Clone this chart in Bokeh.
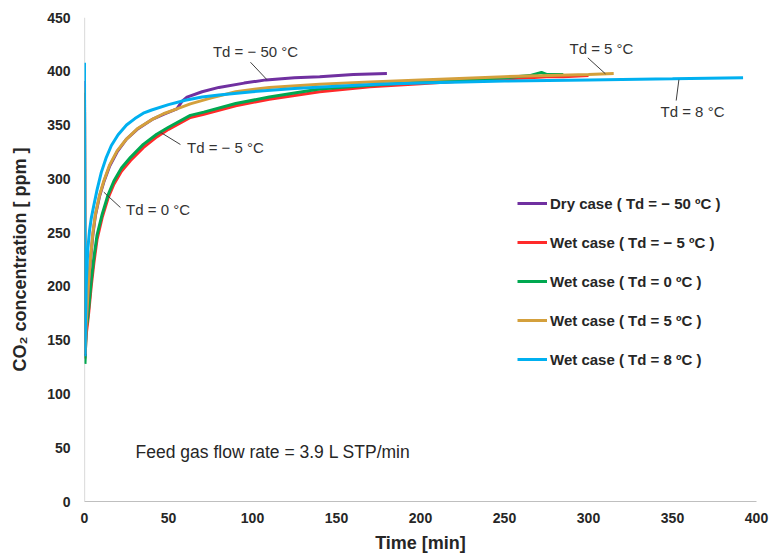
from bokeh.plotting import figure
from bokeh.models import Range1d, FixedTicker, Legend, LegendItem, Span
from bokeh.core.properties import value
from bokeh.embed import file_html
from bokeh.resources import INLINE

# ---- data ----
t_dry = [0, 0.3, 1, 1.6, 2.5, 3.6, 5, 6.5, 9, 11.5, 15, 19.4, 25, 31.4, 40, 47, 55, 58, 61, 70, 80, 95, 108, 125, 140, 160, 180]
c_dry = [391, 136, 163, 179, 203, 225, 248, 266, 284, 297, 312, 325, 337, 346, 355, 360, 365, 372, 376, 381, 385, 389, 392, 394, 395, 397, 398]

t_m5 = [0, 0.3, 1, 2, 2.6, 4, 5.6, 7.5, 10.5, 14, 17.5, 22, 27.4, 35, 43, 50, 63, 71, 90, 110, 140, 170, 200, 225, 250, 265, 275, 285, 300]
c_m5 = [380, 133, 155, 168, 177, 200, 222, 244, 264, 282, 295, 307, 317, 329, 339, 346, 357, 360, 368, 374, 381, 385.5, 388.5, 391, 393, 394, 395, 395, 396]

t_0 = [0, 0.3, 1, 2, 2.6, 4, 5.6, 7.5, 10.5, 14, 17.5, 22, 27.4, 35, 43, 50, 63, 71, 90, 110, 140, 170, 200, 225, 250, 265, 272, 275, 285]
c_0 = [380, 128, 160, 172, 181, 205, 227, 248, 267, 285, 298, 310, 320, 332, 341.5, 348, 359, 362, 370, 376, 383.5, 387, 390, 392, 394, 396, 399, 397, 397]

t_5 = [0, 0.3, 1, 1.6, 2.5, 3.6, 5, 6.5, 9, 11.5, 15, 19.4, 25, 31.4, 40, 47, 55, 63, 75, 90, 110, 140, 170, 200, 250, 300, 315]
c_5 = [385, 137, 165, 181, 205, 227, 250, 267, 285, 298, 313, 326, 337, 346.5, 355, 360.5, 365, 369.7, 375, 381, 385, 388, 390, 392, 395, 397, 398]

t_8 = [0, 0.3, 1, 2, 3, 4, 5.5, 7.5, 10, 13, 16, 20, 25, 30, 35, 40, 50, 60, 70, 80, 100, 125, 150, 175, 200, 250, 300, 350, 392]
c_8 = [408, 135, 200, 235, 252, 263, 275, 290, 306, 320, 331, 341, 350, 356, 361, 364, 369, 373, 376, 378, 381, 384, 386, 388, 389, 391, 392, 393, 394]

series_labels = ["Dry case ( Td = \u2212 50 \u00baC )", "Wet case ( Td = \u2212 5 \u00baC )",
                 "Wet case ( Td = 0 \u00baC )", "Wet case ( Td = 5 \u00baC )", "Wet case ( Td = 8 \u00baC )"]
series_colors = ["#7030A0", "#FF2A2A", "#00A850", "#D4A03C", "#00B0F0"]

x_ticks = [0, 50, 100, 150, 200, 250, 300, 350, 400]
y_ticks = [0, 50, 100, 150, 200, 250, 300, 350, 400, 450]

# annotation texts and their anchor / leader positions (data units)
ann_text = ["Td = \u2212 50 \u00b0C", "Td = \u2212 5 \u00b0C", "Td = 0 \u00b0C", "Td = 5 \u00b0C", "Td = 8 \u00b0C"]
ann_x = [101.8, 83.9, 43.8, 307.7, 361.9]
ann_y = [418.4, 329.4, 271.5, 421.2, 362.6]
lead_x0 = [98.8, 57.1, 21.4, 299.6, 353.8]
lead_y0 = [408.4, 331.9, 273.3, 412.5, 392.1]
lead_x1 = [108.7, 45.2, 11.5, 310.1, 352.2]
lead_y1 = [392.0, 343.3, 287.6, 397.6, 372.8]

FONT = "Liberation Sans"
AXIS_GREY = "#BFBFBF"

p = figure(width=776, height=555, output_backend="svg", toolbar_location=None,
           x_range=Range1d(0, 400), y_range=Range1d(0, 450),
           min_border_left=84, min_border_right=20, min_border_top=17, min_border_bottom=54)
p.outline_line_color = None
p.xgrid.visible = False
p.ygrid.visible = False

for ax in (p.xaxis, p.yaxis):
    ax.axis_line_color = AXIS_GREY
    ax.axis_line_width = 1.2
    ax.major_tick_line_color = None
    ax.minor_tick_line_color = None
    ax.major_tick_out = 0
    ax.major_tick_in = 0
    ax.major_label_text_font = FONT
    ax.major_label_text_font_style = "bold"
    ax.major_label_text_font_size = "14px"
    ax.major_label_text_color = "#262626"
    ax.axis_label_text_font = FONT
    ax.axis_label_text_font_style = "bold"
    ax.axis_label_text_font_size = "18px"
    ax.axis_label_text_color = "#262626"

# left axis line drawn beneath the data so the t = 0 drop stays visible
p.yaxis.axis_line_color = None
p.add_layout(Span(location=0, dimension="height", line_color=AXIS_GREY, line_width=1.2, level="underlay"))

p.xaxis.ticker = FixedTicker(ticks=x_ticks)
p.yaxis.ticker = FixedTicker(ticks=y_ticks)
p.xaxis.major_label_standoff = 11
p.xaxis.axis_label_standoff = 7
p.yaxis.major_label_standoff = 14
p.yaxis.axis_label_standoff = 14
p.xaxis.axis_label = "Time [min]"
p.yaxis.axis_label = "CO\u2082 concentration [ ppm ]"

data = [(t_dry, c_dry), (t_m5, c_m5), (t_0, c_0), (t_5, c_5), (t_8, c_8)]
renderers = [None] * 5
for idx in [1, 2, 0, 3, 4]:
    tx, cy = data[idx]
    renderers[idx] = p.line(tx, cy, line_color=series_colors[idx], line_width=3)

# leader lines and labels
p.segment(x0=lead_x0, y0=lead_y0, x1=lead_x1, y1=lead_y1, line_color="#404040", line_width=1)
p.text(x=ann_x, y=ann_y, text=ann_text, text_font=value(FONT), text_font_size="15px",
       text_color="#333333", text_align="center", text_baseline="middle")
p.text(x=[30.4], y=[45.6], text=["Feed gas flow rate = 3.9 L STP/min"], text_font=value(FONT),
       text_font_size="17.5px", text_color="#262626", text_align="left", text_baseline="middle")

legend = Legend(items=[LegendItem(label=series_labels[i], renderers=[renderers[i]]) for i in range(5)],
                location=(433, 132), orientation="vertical")
legend.label_text_font = FONT
legend.label_text_font_style = "bold"
legend.label_text_font_size = "15px"
legend.label_text_color = "#262626"
legend.glyph_width = 30
legend.glyph_height = 20
legend.label_height = 20
legend.spacing = 19
legend.label_standoff = 3
legend.padding = 0
legend.margin = 0
legend.border_line_color = None
legend.background_fill_alpha = 0
p.add_layout(legend, "center")

open("out.html", "w").write(file_html(p, INLINE))
